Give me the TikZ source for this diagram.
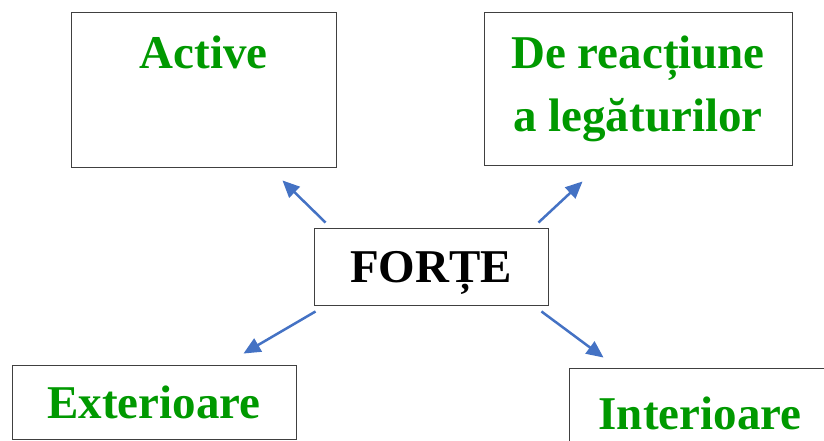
\documentclass[tikz,border=0pt]{standalone}
\usepackage{fontspec}
\setmainfont{Liberation Serif}
\usepackage{xcolor}
\usetikzlibrary{arrows.meta, positioning}

\definecolor{leafgreen}{RGB}{0,153,0}
\definecolor{arrowblue}{RGB}{68,114,196}

\begin{document}
\begin{tikzpicture}[
    x=1pt, y=1pt,
    box/.style   = {rectangle, draw=black!75, line width=0.9pt,
                    align=center, inner sep=0pt, text=leafgreen,
                    font=\fontsize{47}{63}\selectfont\bfseries},
    hub/.style   = {box, text=black, text depth=0pt},
    arrow/.style = {-{Triangle[length=17pt, width=15pt]},
                    line width=2.5pt, draw=arrowblue}
]

\useasboundingbox (0,0) rectangle (824,440);

% ========= boxes =========
\node[hub, minimum width=234, minimum height=77] (forte) at (431,173.5) {FORȚE};
\node[box, minimum width=265, minimum height=155] (active) at (203.5,350.5) {Active\\[-8pt]\strut};
\node[box, minimum width=308, minimum height=153] (reaction) at (638,351.5) {De reacțiune\\a legăturilor};
\node[box, minimum width=284, minimum height=74] (exterior) at (154,38) {Exterioare};
\node[box, minimum width=262, minimum height=90] (interior) at (700,27) {Interioare};

% ========= arrows =========
\draw[arrow] ([xshift=12pt,yshift=5pt]forte.north west) -- ([xshift=-54pt,yshift=-13pt]active.south east);
\draw[arrow] ([xshift=-10pt,yshift=5pt]forte.north east) -- ([xshift=99pt,yshift=-16pt]reaction.south west);
\draw[arrow] ([xshift=2pt,yshift=-6pt]forte.south west) -- ([xshift=-53pt,yshift=11pt]exterior.north east);
\draw[arrow] ([xshift=-7pt,yshift=-6pt]forte.south east) -- ([xshift=35pt,yshift=10pt]interior.north west);

\end{tikzpicture}
\end{document}
